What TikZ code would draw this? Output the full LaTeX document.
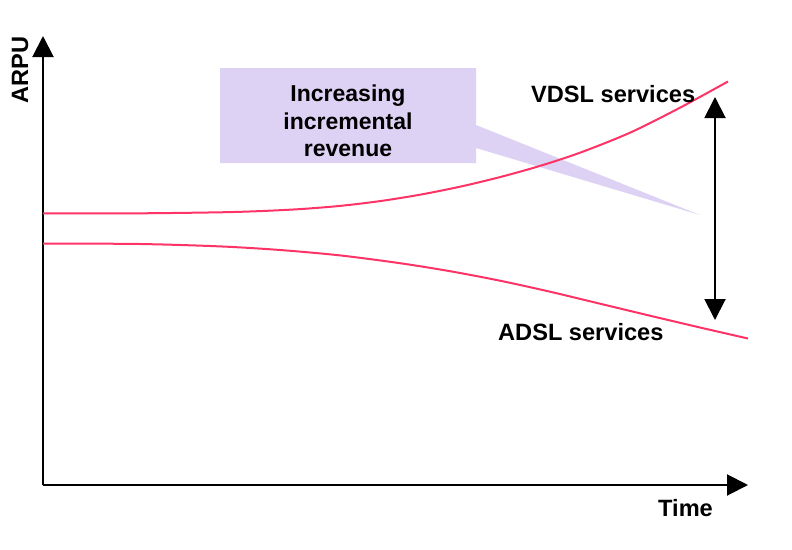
\documentclass[tikz,border=0pt]{standalone}
\usepackage{fontspec}
\setmainfont{Liberation Sans}
\usetikzlibrary{arrows.meta}
\definecolor{curvered}{RGB}{255,51,102}
\definecolor{calloutfill}{RGB}{222,210,244}
\tikzset{
  axisline/.style={line width=2pt, -{Triangle[width=21pt,length=21pt]}},
  spanarrow/.style={line width=2pt, {Triangle[width=21pt,length=21pt]}-{Triangle[width=21pt,length=21pt]}},
  trend/.style={curvered, line width=2pt, smooth, tension=0.5},
  label/.style={font=\bfseries\fontsize{23.6}{27.5}\selectfont, inner sep=0pt, anchor=base west},
}
\begin{document}
\begin{tikzpicture}[x=1pt, y=-1pt]
  \useasboundingbox (0,0) rectangle (792,549);

  % callout box with its pointer
  \fill[calloutfill] (220,68) -- (476,68) -- (476,125) -- (700,215) -- (476,148)
    -- (476,163) -- (220,163) -- cycle;
  \node[font=\bfseries\fontsize{23}{27.5}\selectfont, align=center, inner sep=0pt]
    (callout) at (348,121) {Increasing\\incremental\\revenue};

  % axes
  \coordinate (origin) at (43,485);
  \coordinate (ytip) at (43,36);
  \coordinate (xtip) at (748,485);
  \draw[axisline] (origin) -- (ytip);
  \draw[axisline] (origin) -- (xtip);
  \node[label, rotate=90] (arpu) at (28,104) {ARPU};
  \node[label] (time) at (658,516) {Time};

  % revenue trends
  \draw[trend] plot coordinates {(43,213.3) (140,213.3) (220,212.3) (260,211.1)
    (300,209.1) (340,205.9) (380,201.1) (420,194.7) (460,186.7) (500,177.1)
    (540,165.9) (580,152.7) (630,132.7) (680,107.7) (728,81.5)};
  \draw[trend] plot coordinates {(43,243.5) (140,244) (220,246.4) (280,250)
    (340,255.4) (400,263.2) (450,271.2) (500,280.7) (550,291.7) (600,303.7)
    (650,315.7) (700,327.5) (748,338.5)};

  \node[label] (vdsl) at (531,102) {VDSL services};
  \node[label] (adsl) at (498,340) {ADSL services};

  % gap between the two services
  \coordinate (gaptop) at (715,97);
  \coordinate (gapbot) at (715,320);
  \draw[spanarrow] (gapbot) -- (gaptop);
\end{tikzpicture}
\end{document}
